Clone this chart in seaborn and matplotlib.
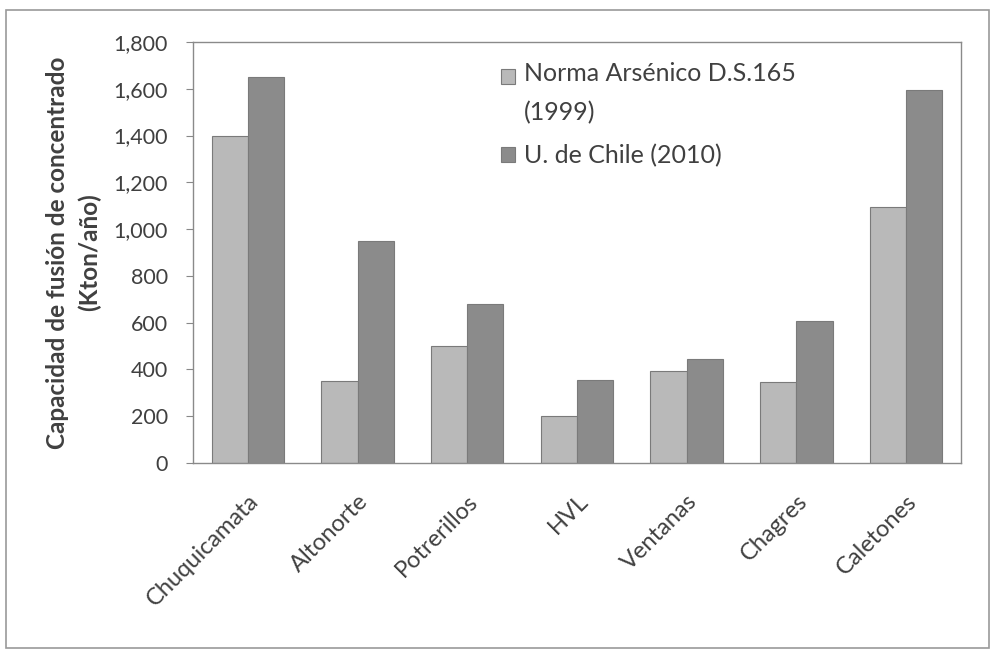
import numpy as np
import pandas as pd
import matplotlib
matplotlib.use("Agg")
import matplotlib.pyplot as plt
import seaborn as sns
from matplotlib.patches import Rectangle

# datos
fundiciones = ["Chuquicamata", "Altonorte", "Potrerillos", "HVL", "Ventanas", "Chagres", "Caletones"]
norma_1999 = [1400, 350, 500, 200, 395, 345, 1095]
uchile_2010 = [1650, 950, 680, 355, 445, 605, 1595]
serie1 = "Norma Arsénico D.S.165\n(1999)"
serie2 = "U. de Chile (2010)"
yticks = [0, 200, 400, 600, 800, 1000, 1200, 1400, 1600, 1800]

df = pd.DataFrame({
    "fundicion": fundiciones * 2,
    "capacidad": norma_1999 + uchile_2010,
    "serie": [serie1] * len(fundiciones) + [serie2] * len(fundiciones),
})

sns.set_style("white")
plt.rcParams["font.family"] = ["Lato", "DejaVu Sans"]
txt = "#404040"

fig = plt.figure(figsize=(9.98, 6.52), dpi=100)
ax = fig.add_axes([0.1934, 0.290, 0.7695, 0.6456])

sns.barplot(data=df, x="fundicion", y="capacidad", hue="serie",
            palette=["#b9b9b9", "#8b8b8b"], width=0.66, gap=0,
            edgecolor="#7a7a7a", linewidth=0.8, ax=ax)

ax.set_ylim(0, 1800)
ax.set_xlim(-0.5, 6.5)
ax.set_yticks(yticks)
ax.set_yticklabels([f"{v:,}" for v in yticks], fontsize=15.5, color=txt)
ax.set_xticks(range(len(fundiciones)))
ax.set_xticklabels(fundiciones, rotation=45, ha="right", rotation_mode="anchor",
                   fontsize=17, color=txt)
ax.tick_params(axis="x", which="major", length=0, pad=20)
ax.set_xticks(np.arange(-0.5, 7, 1), minor=True)
ax.tick_params(axis="x", which="minor", length=5, direction="out", color="#888888")
ax.tick_params(axis="y", length=5, direction="out", color="#888888", pad=13, left=True)

ax.set_xlabel("")
ax.set_ylabel("Capacidad de fusión de concentrado\n(Kton/año)", fontsize=17.5,
              fontweight="bold", color=txt, labelpad=9, linespacing=1.45)

for s in ax.spines.values():
    s.set_visible(True)
    s.set_color("#8a8a8a")
    s.set_linewidth(1.0)

leg = ax.legend(loc="upper left", bbox_to_anchor=(0.372, 1.007), frameon=False,
                fontsize=18, handlelength=0.55, handleheight=0.55, handletextpad=0.35,
                labelspacing=0.8, labelcolor=txt)
for t in leg.get_texts():
    t.set_linespacing(1.83)
# en Excel el cuadro de la primera serie va a la altura de la primera linea
h0 = leg.legend_handles[0]
h0.set_y(h0.get_y() + 12.2)

# marco exterior del grafico
fig.patches.append(Rectangle((0.006, 0.006), 0.985, 0.978, transform=fig.transFigure,
                             fill=False, edgecolor="#9a9a9a", linewidth=1.2))

fig.savefig("out.png", dpi=100)
